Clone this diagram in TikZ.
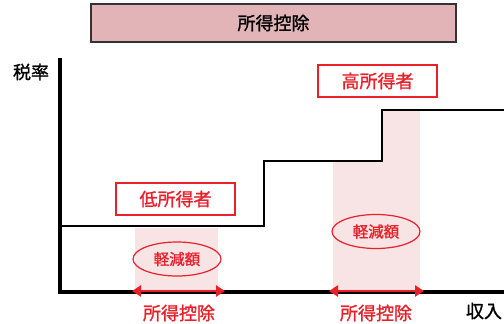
\documentclass[tikz,border=0pt]{standalone}
\usepackage{fontspec}
\newfontfamily\jp[FakeBold=1.2]{Noto Sans CJK JP}
\usetikzlibrary{arrows.meta,shapes.geometric}
\definecolor{myred}{HTML}{E8202A}
\definecolor{titlefill}{HTML}{E2B4B8}
\definecolor{hatch}{HTML}{F8E4E4}
\begin{document}
\begin{tikzpicture}[x=1pt,y=-1pt,
  lbl/.style={font=\jp\fontsize{18}{20}\selectfont, inner sep=0pt},
  redbox/.style={draw=myred, line width=1.3pt, text=myred, font=\jp\fontsize{18}{20}\selectfont, minimum width=119pt, minimum height=32pt, inner sep=0pt},
  redell/.style={ellipse, draw=myred, line width=1.2pt, text=myred, font=\jp\fontsize{15.5}{18}\selectfont, minimum width=88pt, minimum height=34pt, inner sep=0pt},
  axis/.style={line width=4pt},
  stepline/.style={line width=2.6pt},
  dblarrow/.style={myred, line width=2.5pt, {Triangle[length=9pt,width=11pt]}-{Triangle[length=9pt,width=11pt]}},
  band/.style={fill=hatch}
]
\useasboundingbox (0,0) rectangle (504,324);
% hatched bands
\fill[band] (135,228) rectangle (218,291);
\fill[band] (333,161) -- (382,161) -- (382,110) -- (420,110) -- (420,291) -- (333,291) -- cycle;
% title
\node[draw=black!80, line width=1.3pt, fill=titlefill, minimum width=365pt, minimum height=38pt, inner sep=0pt, font=\jp\fontsize{18}{20}\selectfont] (title) at (273.5,23) {所得控除};
% axes
\coordinate (origin) at (60,292);
\coordinate (ytop) at (60,58);
\coordinate (xend) at (506,292);
\draw[axis] (ytop) -- (origin) -- (xend);
\node[lbl] (zeiritsu) at (31,72) {税率};
\node[lbl] (shunyu) at (484,311) {収入};
% step line
\coordinate (s0) at (61,226);
\coordinate (s1) at (264,226);
\coordinate (s2) at (264,161);
\coordinate (s3) at (382,161);
\coordinate (s4) at (382,110);
\coordinate (s5) at (506,110);
\draw[stepline] (s0) -- (s1) -- (s2) -- (s3) -- (s4) -- (s5);
% boxes
\node[redbox] (low) at (175.5,199) {低所得者};
\node[redbox] (high) at (377.5,81) {高所得者};
% ellipses
\node[redell] (e1) at (177,259) {軽減額};
\node[redell] (e2) at (376,231.5) {軽減額};
% arrows
\coordinate (a1l) at (132,291);
\coordinate (a1r) at (225,291);
\coordinate (a2l) at (329,291);
\coordinate (a2r) at (424,291);
\draw[dblarrow] (a1l) -- (a1r);
\draw[dblarrow] (a2l) -- (a2r);
\node[lbl, text=myred] (k1) at (179,313) {所得控除};
\node[lbl, text=myred] (k2) at (376,313) {所得控除};
\end{tikzpicture}
\end{document}
